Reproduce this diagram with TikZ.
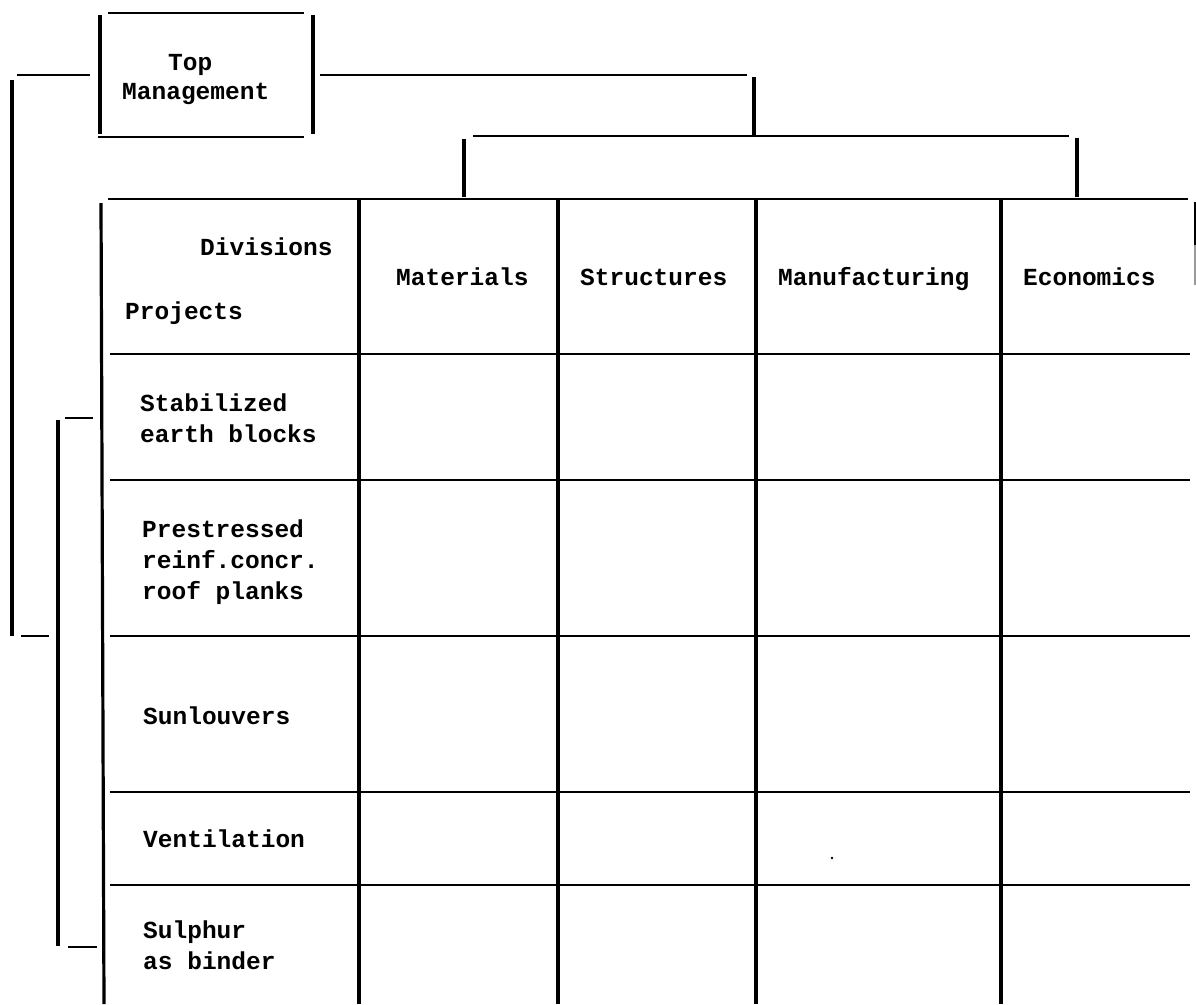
\documentclass[tikz,border=0pt]{standalone}
\usepackage{fontspec}
\newfontfamily\tw{Liberation Mono}
\tikzset{
  vline/.style={line width=3.2pt},
  hline/.style={line width=2.2pt},
  lbl/.style={font=\tw\bfseries\fontsize{24.5}{31}\selectfont, inner sep=0pt, anchor=base west, align=left},
}
\begin{document}
\begin{tikzpicture}[x=1pt,y=-1pt]
\useasboundingbox (0,0) rectangle (1196,1004);
% Top Management box
\draw[hline] (108,13) -- (304,13);
\draw[hline] (98,137) -- (304,137);
\draw[vline] (100,15) -- (100,134);
\draw[vline] (313,15) -- (313,134);
\node[lbl] (top) at (168,70) {Top};
\node[lbl] (mgmt) at (122,99) {Management};
% connectors to the divisions
\draw[hline] (320,75) -- (747,75);
\draw[vline] (754,77) -- (754,135);
\draw[hline] (473,136) -- (1069,136);
\draw[vline] (464,139) -- (464,197);
\draw[vline] (1077,138) -- (1077,197);
% outer bracket
\draw[hline] (17,75) -- (90,75);
\draw[vline] (12,80) -- (12,636);
\draw[hline] (21,636) -- (49,636);
% inner bracket
\draw[hline] (65,418) -- (93,418);
\draw[vline] (58,420) -- (58,946);
\draw[hline] (68,947) -- (97,947);
% table
\draw[hline] (108,199) -- (1188,199);
\draw[vline] (101,203) -- (104,1004);
\foreach \xx in {359,558,756,1001}
  \draw[vline] (\xx,199) -- (\xx,1004);
\foreach \yy in {354,480,636,792,885}
  \draw[hline] (110,\yy) -- (1190,\yy);
\draw[line width=2.4pt] (1195,202) -- (1195,245);
\draw[line width=1.2pt,black!40] (1195,245) -- (1195,285);
% header labels
\node[lbl] (div) at (200,255) {Divisions};
\node[lbl] (proj) at (125,319) {Projects};
\node[lbl] (mat) at (396,285) {Materials};
\node[lbl] (str) at (580,285) {Structures};
\node[lbl] (man) at (778,285) {Manufacturing};
\node[lbl] (eco) at (1023,285) {Economics};
% project labels
\node[lbl] (p1) at (140,442) {Stabilized\\earth blocks};
\node[lbl] (p2) at (142,599) {Prestressed\\reinf.concr.\\roof planks};
\node[lbl] (p3) at (143,724) {Sunlouvers};
\node[lbl] (p4) at (143,847) {Ventilation};
\node[lbl] (p5) at (143,969) {Sulphur\\as binder};
\fill (832,858) circle (1.3pt);
\end{tikzpicture}
\end{document}
